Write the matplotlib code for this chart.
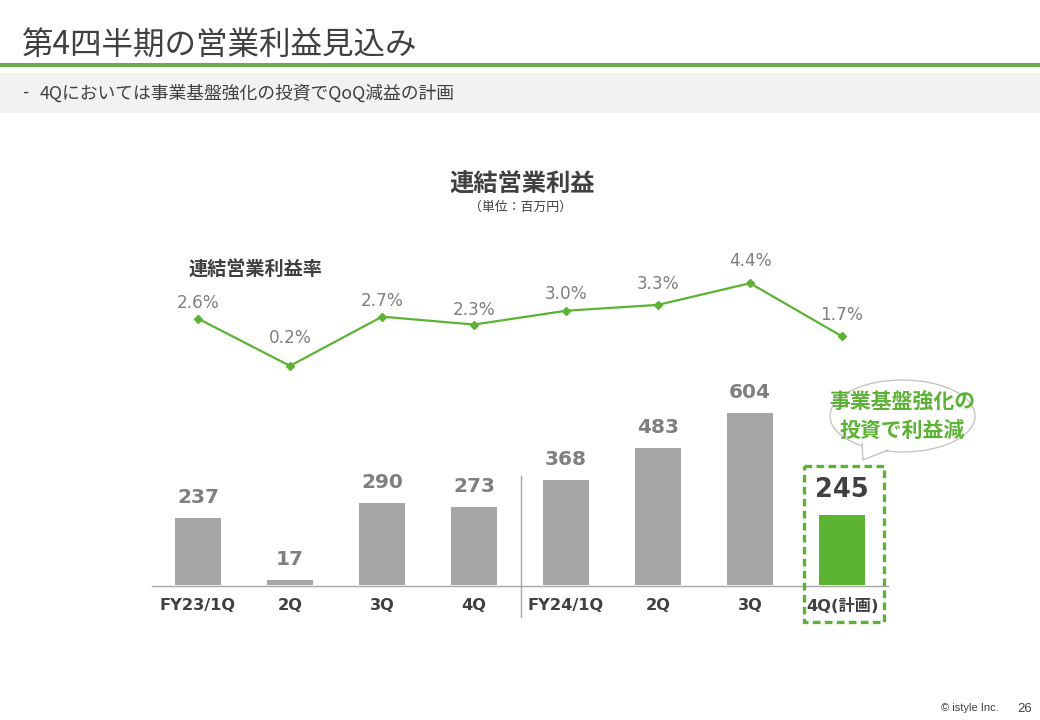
import matplotlib
matplotlib.use('Agg')
import matplotlib.pyplot as plt
from matplotlib.patches import Ellipse, Polygon, Rectangle

plt.rcParams['font.family'] = ['DejaVu Sans', 'Noto Sans CJK JP']

# values
quarters = ['FY23/1Q', '2Q', '3Q', '4Q', 'FY24/1Q', '2Q', '3Q', '4Q(計画)']
profit = [237, 17, 290, 273, 368, 483, 604, 245]
margin = [2.6, 0.2, 2.7, 2.3, 3.0, 3.3, 4.4, 1.7]
margin_labels = ['2.6%', '0.2%', '2.7%', '2.3%', '3.0%', '3.3%', '4.4%', '1.7%']

title = '第4四半期の営業利益見込み'
subtitle = '4Qにおいては事業基盤強化の投資でQoQ減益の計画'
chart_title = '連結営業利益'
unit = '（単位：百万円）'
margin_title = '連結営業利益率'
callout = '事業基盤強化の\n投資で利益減'

GREEN = '#5AB432'
BAR_GREY = '#A5A5A5'
LABEL_GREY = '#7F7F7F'
DARK = '#404040'
JP = ['Noto Sans CJK JP', 'DejaVu Sans']

W, H = 1040, 720
fig = plt.figure(figsize=(W / 100, H / 100), dpi=100, facecolor='white')


def px_axes(left, top, right, bottom):
    # axes placed by pixel box, y measured from the top of the slide
    return fig.add_axes([left / W, 1 - bottom / H, (right - left) / W, (bottom - top) / H])


# slide furniture, drawn in pixel coordinates
bg = fig.add_axes([0, 0, 1, 1], zorder=0)
bg.set_xlim(0, W)
bg.set_ylim(H, 0)
bg.axis('off')
bg.add_patch(Rectangle((0, 63), W, 4, color='#6AAB4F', lw=0))
bg.add_patch(Rectangle((0, 73), W, 40, color='#F2F2F2', lw=0))
bg.text(22, 46, title, family=JP, fontsize=22.7, color=DARK, va='center', ha='left')
bg.text(22, 93, '-', family=JP, fontsize=12.8, color=DARK, va='center', ha='left')
bg.text(40, 93, subtitle, family=JP, fontsize=12.8, color=DARK, va='center', ha='left')
bg.text(522, 184, chart_title, family=JP, fontsize=17.5, weight='bold', color=DARK, va='center', ha='center')
bg.text(520, 207, unit, family=JP, fontsize=9.3, color=DARK, va='center', ha='center')
bg.text(189, 269, margin_title, family=JP, fontsize=13.8, weight='bold', color=DARK, va='center', ha='left')
bg.text(999, 708, '© istyle Inc.', family='Liberation Sans', fontsize=8, color=DARK, va='center', ha='right')
bg.text(1032, 709, '26', family='Liberation Sans', fontsize=9.5, color=DARK, va='center', ha='right')

# bars
ax = px_axes(152, 385, 888, 586)
ax.set_zorder(1)
ax.patch.set_alpha(0)
colors = [BAR_GREY] * 7 + [GREEN]
bars = ax.bar(range(len(profit)), profit, width=0.5, color=colors)
ax.set_xlim(-0.5, 7.5)
ax.set_ylim(-3, 703)
for i, (b, v) in enumerate(zip(bars, profit)):
    last = i == len(profit) - 1
    ax.annotate(str(v), (b.get_x() + b.get_width() / 2, v), xytext=(0, 18 if last else 14.8),
                textcoords='offset points', ha='center', va='center', weight='bold',
                fontsize=18.5 if last else 14.5, color=DARK if last else LABEL_GREY)
ax.set_xticks(range(len(quarters)))
ax.set_xticklabels(quarters, fontsize=11.7, weight='bold', color=DARK)
ax.tick_params(axis='x', length=0, pad=8.7)
ax.set_yticks([])
for s in ['top', 'left', 'right']:
    ax.spines[s].set_visible(False)
ax.spines['bottom'].set_color('#A6A6A6')
ax.spines['bottom'].set_linewidth(1.0)

# margin line
lx = px_axes(152, 250, 888, 380)
lx.set_zorder(2)
lx.patch.set_alpha(0)
lx.plot(range(len(margin)), margin, color=GREEN, lw=1.6, marker='D', ms=4.5)
lx.set_xlim(-0.5, 7.5)
lx.set_ylim(0.2 - 14 / 19.5, 2.6 + 68 / 19.5)
lx.axis('off')
label_offsets = [11.5, 20, 11.5, 10.8, 12, 15, 16, 15.5]
for i, (m, lab) in enumerate(zip(margin, margin_labels)):
    lx.annotate(lab, (i, m), xytext=(0, label_offsets[i]), textcoords='offset points',
                ha='center', va='center', fontsize=12.2, color=LABEL_GREY, clip_on=False)

# foreground: divider, dashed box, speech bubble
fg = fig.add_axes([0, 0, 1, 1], zorder=3)
fg.set_xlim(0, W)
fg.set_ylim(H, 0)
fg.axis('off')
fg.plot([521, 521], [476, 617], color='#A6A6A6', lw=1.0)
fg.add_patch(Rectangle((804, 466), 80, 156, fill=False, ec=GREEN, lw=2.4, ls=(0, (2.3, 1.3))))
fg.add_patch(Ellipse((902.5, 416), 145, 72, fc='white', ec='#BFBFBF', lw=0.9))
fg.add_patch(Polygon([(862, 443), (863, 460), (888, 450)], fc='white', ec='none', zorder=3))
fg.plot([862, 863, 888], [443, 460, 450], color='#BFBFBF', lw=0.9, zorder=3)
fg.text(902.5, 416, callout, family=JP, fontsize=15, weight='bold', color=GREEN,
        ha='center', va='center', linespacing=1.44, zorder=4)

fig.savefig('out.png', dpi=100)
